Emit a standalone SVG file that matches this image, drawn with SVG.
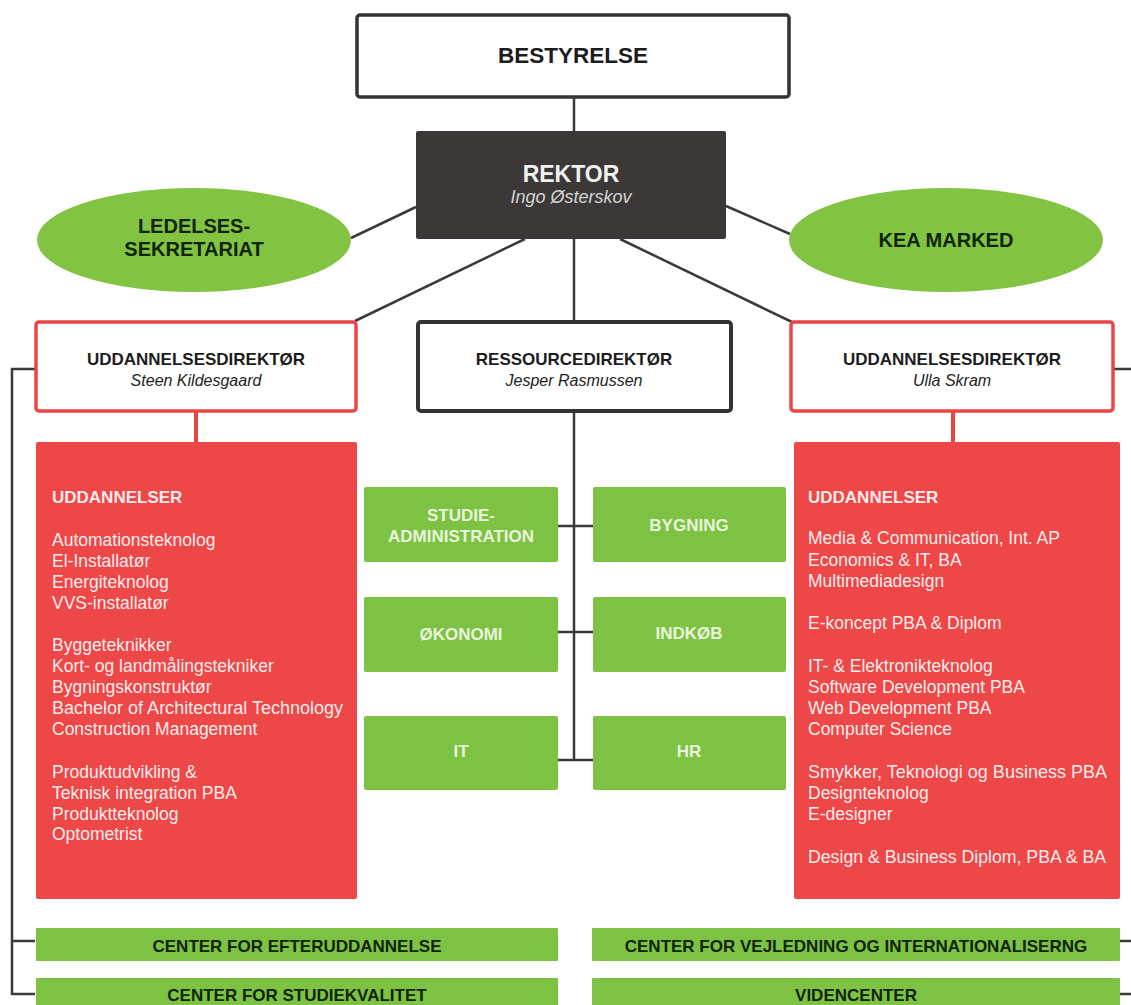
<svg xmlns="http://www.w3.org/2000/svg" width="1131" height="1005" viewBox="0 0 1131 1005">
<style>
text{font-family:"Liberation Sans",Arial,sans-serif}
.ln{stroke:#3a3a3a;stroke-width:2.5;fill:none}
.rl{stroke:#e94545;stroke-width:4;fill:none}
.b{font-weight:bold}
.i{font-style:italic}
.dk{fill:#1c1c1c}
.gt{fill:#e9f5dc;font-weight:bold;font-size:17px;text-anchor:middle}
.ct{fill:#10240a;font-weight:bold;font-size:17px;text-anchor:middle}
.wl{fill:#fdecec;font-size:17.5px}
.el{fill:#82c341}
.gb{fill:#7dc242}
.rb{fill:#ee4747}
</style>
<rect width="1131" height="1005" fill="#ffffff"/>
<g id="connectors">
<line class="ln" x1="574" y1="97" x2="574" y2="131"/>
<line class="ln" x1="416" y1="207" x2="351" y2="238"/>
<line class="ln" x1="726" y1="206" x2="790" y2="234"/>
<line class="ln" x1="525" y1="239" x2="355" y2="321"/>
<line class="ln" x1="574" y1="239" x2="574" y2="321"/>
<line class="ln" x1="620" y1="239" x2="792" y2="322"/>
<line class="ln" x1="574" y1="411" x2="574" y2="760"/>
<line class="ln" x1="557" y1="526" x2="593" y2="526"/>
<line class="ln" x1="557" y1="632" x2="593" y2="632"/>
<line class="ln" x1="557" y1="760" x2="593" y2="760"/>
<polyline class="ln" points="35,369 12,369 12,994 35,994"/>
<line class="ln" x1="12" y1="941" x2="35" y2="941"/>
<line class="ln" x1="1113" y1="369" x2="1131" y2="369"/>
<line class="ln" x1="1120" y1="941" x2="1131" y2="941"/>
<line class="ln" x1="1120" y1="994" x2="1131" y2="994"/>
<line class="rl" x1="196" y1="411" x2="196" y2="442"/>
<line class="rl" x1="953" y1="411" x2="953" y2="442"/>
</g>
<g id="bestyrelse">
<rect x="357" y="15" width="432" height="82" rx="3" fill="#fff" stroke="#333" stroke-width="3.5"/>
<text x="573" y="63" class="b dk" font-size="22.5" text-anchor="middle">BESTYRELSE</text>
</g>
<g id="rektor">
<rect x="416" y="131" width="310" height="108" rx="2" fill="#3d3838"/>
<text x="571" y="182" class="b" font-size="23" fill="#f0f0f0" text-anchor="middle">REKTOR</text>
<text x="571" y="203" class="i" font-size="18" fill="#d4d4d4" text-anchor="middle">Ingo Østerskov</text>
</g>
<g id="ledelsessekretariat">
<ellipse class="el" cx="194" cy="240" rx="157" ry="52"/>
<text x="194" y="233" class="b" font-size="20" fill="#10240a" text-anchor="middle">LEDELSES-</text>
<text x="194" y="256" class="b" font-size="20" fill="#10240a" text-anchor="middle">SEKRETARIAT</text>
</g>
<g id="kea-marked">
<ellipse class="el" cx="946" cy="240" rx="157" ry="52"/>
<text x="946" y="247" class="b" font-size="20" fill="#10240a" text-anchor="middle">KEA MARKED</text>
</g>
<g id="udd-left">
<rect x="36" y="322" width="320" height="89" rx="3" fill="#fff" stroke="#e94545" stroke-width="3.5"/>
<text x="196" y="365" class="b dk" font-size="17" text-anchor="middle">UDDANNELSESDIREKTØR</text>
<text x="196" y="386" class="i" font-size="16" fill="#222" text-anchor="middle">Steen Kildesgaard</text>
</g>
<g id="ressource">
<rect x="418" y="322" width="313" height="89" rx="3" fill="#fff" stroke="#333" stroke-width="4"/>
<text x="574" y="365" class="b dk" font-size="17" text-anchor="middle">RESSOURCEDIREKTØR</text>
<text x="574" y="386" class="i" font-size="16" fill="#222" text-anchor="middle">Jesper Rasmussen</text>
</g>
<g id="udd-right">
<rect x="791" y="322" width="322" height="89" rx="3" fill="#fff" stroke="#e94545" stroke-width="3.5"/>
<text x="952" y="365" class="b dk" font-size="17" text-anchor="middle">UDDANNELSESDIREKTØR</text>
<text x="952" y="386" class="i" font-size="16" fill="#222" text-anchor="middle">Ulla Skram</text>
</g>
<g id="uddannelser-left">
<rect class="rb" x="36" y="442" width="321" height="457" rx="2"/>
<text x="52" y="503" class="b" font-size="17" fill="#fdeaea">UDDANNELSER</text>
<text class="wl" x="52">
<tspan x="52" y="546">Automationsteknolog</tspan>
<tspan x="52" y="567">El-Installatør</tspan>
<tspan x="52" y="588">Energiteknolog</tspan>
<tspan x="52" y="609">VVS-installatør</tspan>
<tspan x="52" y="651">Byggeteknikker</tspan>
<tspan x="52" y="672">Kort- og landmålingstekniker</tspan>
<tspan x="52" y="693">Bygningskonstruktør</tspan>
<tspan x="52" y="714" textLength="291" lengthAdjust="spacingAndGlyphs">Bachelor of Architectural Technology</tspan>
<tspan x="52" y="735">Construction Management</tspan>
<tspan x="52" y="778">Produktudvikling &amp;</tspan>
<tspan x="52" y="799">Teknisk integration PBA</tspan>
<tspan x="52" y="820">Produktteknolog</tspan>
<tspan x="52" y="840">Optometrist</tspan>
</text>
</g>
<g id="uddannelser-right">
<rect class="rb" x="794" y="442" width="326" height="457" rx="2"/>
<text x="808" y="503" class="b" font-size="17" fill="#fdeaea">UDDANNELSER</text>
<text class="wl" x="808">
<tspan x="808" y="544">Media &amp; Communication, Int. AP</tspan>
<tspan x="808" y="566">Economics &amp; IT, BA</tspan>
<tspan x="808" y="587">Multimediadesign</tspan>
<tspan x="808" y="629">E-koncept PBA &amp; Diplom</tspan>
<tspan x="808" y="672">IT- &amp; Elektronikteknolog</tspan>
<tspan x="808" y="693">Software Development PBA</tspan>
<tspan x="808" y="714">Web Development PBA</tspan>
<tspan x="808" y="735">Computer Science</tspan>
<tspan x="808" y="778" textLength="298" lengthAdjust="spacingAndGlyphs">Smykker, Teknologi og Business PBA</tspan>
<tspan x="808" y="799">Designteknolog</tspan>
<tspan x="808" y="820">E-designer</tspan>
<tspan x="808" y="863" textLength="298" lengthAdjust="spacingAndGlyphs">Design &amp; Business Diplom, PBA &amp; BA</tspan>
</text>
</g>
<g id="studieadministration">
<rect class="gb" x="364" y="487" width="194" height="75" rx="2"/>
<text class="gt" x="461" y="521">STUDIE-</text>
<text class="gt" x="461" y="542">ADMINISTRATION</text>
</g>
<g id="bygning">
<rect class="gb" x="593" y="487" width="193" height="75" rx="2"/>
<text class="gt" x="689" y="531">BYGNING</text>
</g>
<g id="okonomi">
<rect class="gb" x="364" y="597" width="194" height="75" rx="2"/>
<text class="gt" x="461" y="640">ØKONOMI</text>
</g>
<g id="indkob">
<rect class="gb" x="593" y="597" width="193" height="75" rx="2"/>
<text class="gt" x="689" y="639">INDKØB</text>
</g>
<g id="it">
<rect class="gb" x="364" y="716" width="194" height="74" rx="2"/>
<text class="gt" x="461" y="757">IT</text>
</g>
<g id="hr">
<rect class="gb" x="593" y="716" width="193" height="74" rx="2"/>
<text class="gt" x="689" y="757">HR</text>
</g>
<g id="center-efteruddannelse">
<rect class="gb" x="36" y="928" width="522" height="33" rx="1"/>
<text class="ct" x="297" y="952">CENTER FOR EFTERUDDANNELSE</text>
</g>
<g id="center-vejledning">
<rect class="gb" x="592" y="928" width="528" height="33" rx="1"/>
<text class="ct" x="856" y="952">CENTER FOR VEJLEDNING OG INTERNATIONALISERNG</text>
</g>
<g id="center-studiekvalitet">
<rect class="gb" x="36" y="978" width="522" height="33" rx="1"/>
<text class="ct" x="297" y="1001">CENTER FOR STUDIEKVALITET</text>
</g>
<g id="videncenter">
<rect class="gb" x="592" y="978" width="528" height="33" rx="1"/>
<text class="ct" x="856" y="1001">VIDENCENTER</text>
</g>
</svg>
